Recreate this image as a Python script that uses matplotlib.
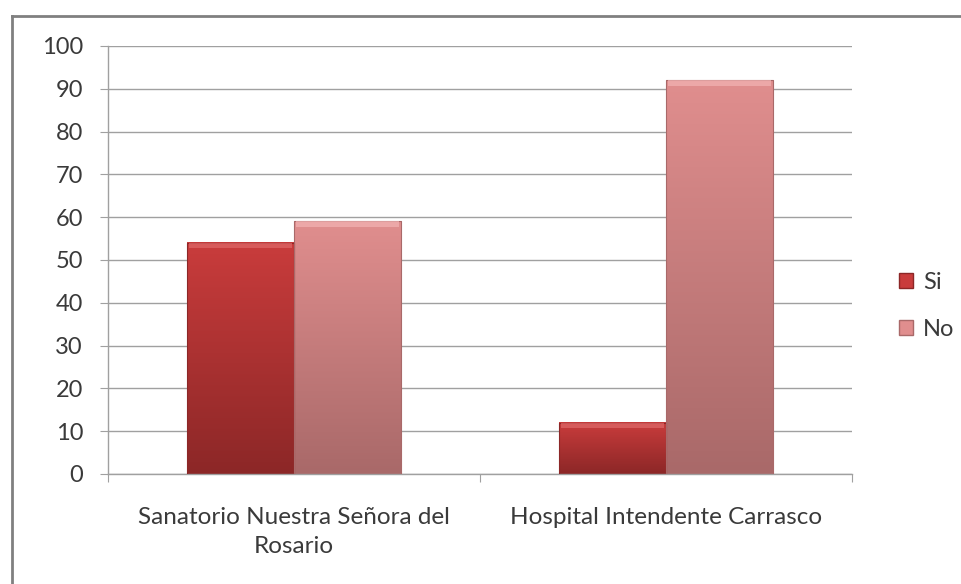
import numpy as np
import matplotlib
matplotlib.use("Agg")
import matplotlib.pyplot as plt
from matplotlib.colors import LinearSegmentedColormap
from matplotlib.patches import Patch, Rectangle
from matplotlib.lines import Line2D

# dane wykresu
categories = ["Sanatorio Nuestra Señora del\nRosario", "Hospital Intendente Carrasco"]
series_names = ["Si", "No"]
si_values = [54, 12]
no_values = [59, 92]
y_ticks = [0, 10, 20, 30, 40, 50, 60, 70, 80, 90, 100]

# kolory gradientu (góra, dół)
si_colors = ("#c93c3c", "#8c2727")
no_colors = ("#e08e8e", "#a96969")
si_light = "#df6a6a"
no_light = "#f2b4b4"
text_col = "#3a3a3a"
grid_col = "#a0a0a0"

plt.rcParams['font.family'] = ['Lato', 'DejaVu Sans']

fig = plt.figure(figsize=(9.61, 5.84), dpi=100)
ax = fig.add_axes([0.1124, 0.1884, 0.7742, 0.7329])

x = np.arange(len(categories))
width = 0.288

def gradient_bar(xc, h, cols, light):
    cmap = LinearSegmentedColormap.from_list("g", [cols[1], cols[0]])
    grad = np.linspace(0, 1, 128).reshape(-1, 1)
    x0, x1 = xc - width / 2, xc + width / 2
    ax.imshow(grad, extent=[x0, x1, 0, h], origin="lower", aspect="auto",
              cmap=cmap, zorder=2, interpolation="bicubic")
    # obramowanie i "bevel" na górze
    ax.add_patch(Rectangle((x0, 0), width, h, fill=False, edgecolor=cols[1],
                           lw=0.8, zorder=3))
    bev = 1.3
    ax.add_patch(Rectangle((x0 + 0.006, h - bev), width - 0.012, bev,
                           facecolor=light, edgecolor="none", alpha=0.7, zorder=3))

for i in range(len(categories)):
    gradient_bar(x[i] - width / 2, si_values[i], si_colors, si_light)
    gradient_bar(x[i] + width / 2, no_values[i], no_colors, no_light)

ax.set_xlim(-0.5, len(categories) - 0.5)
ax.set_ylim(0, 100)
ax.set_yticks(y_ticks)
ax.yaxis.grid(True, color=grid_col, lw=1)
ax.set_axisbelow(True)

# osie
for s in ["top", "right"]:
    ax.spines[s].set_visible(False)
for s in ["left", "bottom"]:
    ax.spines[s].set_color(grid_col)
    ax.spines[s].set_linewidth(1)

ax.set_xticks(np.arange(-0.5, len(categories)), labels=[])
ax.set_xticks(x, labels=categories, minor=True)
ax.tick_params(axis="x", which="major", length=6, color=grid_col, direction="out")
ax.tick_params(axis="x", which="minor", length=0, pad=24, labelsize=17.5, labelcolor=text_col)
ax.tick_params(axis="y", length=6, color=grid_col, pad=12, labelsize=17, labelcolor=text_col)
for lab in ax.get_xticklabels(minor=True):
    lab.set_linespacing(1.45)

# legenda
handles = [Patch(facecolor=si_colors[0], edgecolor=si_colors[1], label=series_names[0]),
           Patch(facecolor=no_colors[0], edgecolor=no_colors[1], label=series_names[1])]
ax.legend(handles=handles, loc="center left", bbox_to_anchor=(1.035, 0.393),
          frameon=False, handlelength=0.6, handleheight=0.6, handletextpad=0.4,
          labelspacing=1.1, fontsize=17, labelcolor=text_col)

# ramka wykresu (lewa i górna krawędź)
fig.add_artist(Line2D([12 / 961, 12 / 961], [0, 1 - 16 / 584], color="#808080", lw=2,
                      transform=fig.transFigure))
fig.add_artist(Line2D([12 / 961, 1], [1 - 16 / 584, 1 - 16 / 584], color="#808080", lw=2,
                      transform=fig.transFigure))

fig.savefig("out.png", dpi=100)
